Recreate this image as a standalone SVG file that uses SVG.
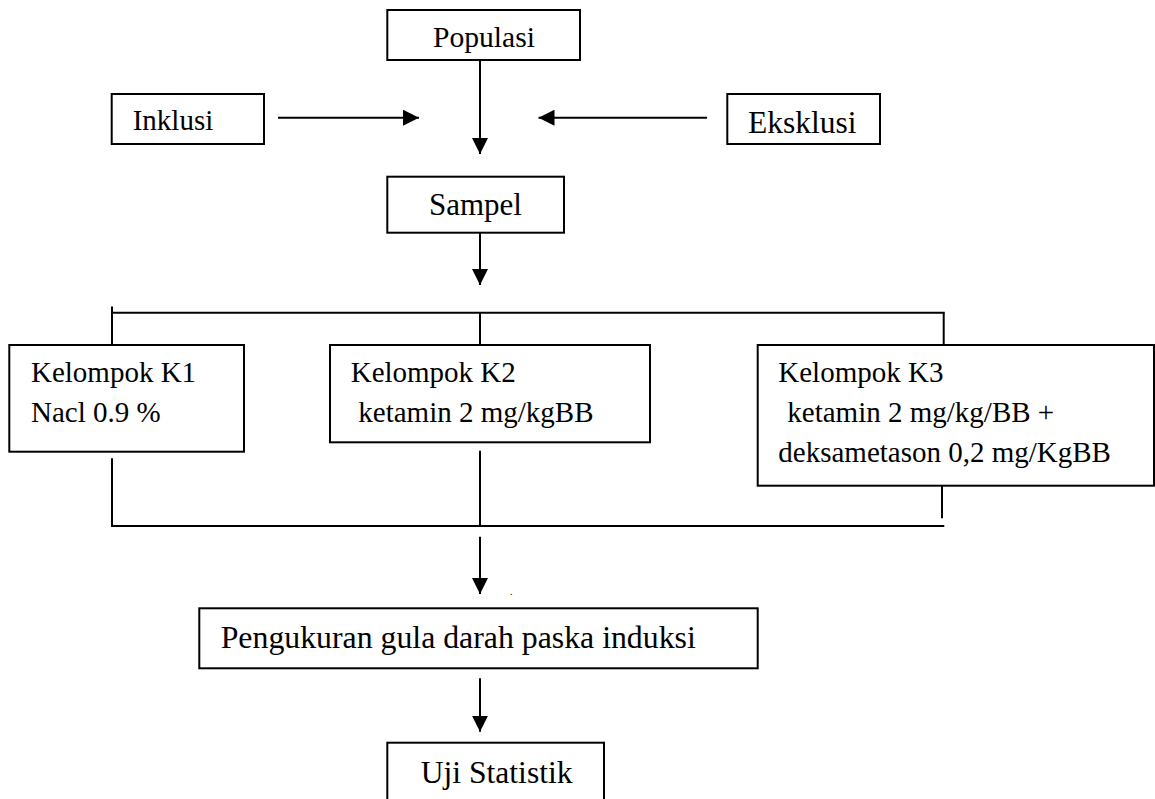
<svg xmlns="http://www.w3.org/2000/svg" width="1155" height="799" viewBox="0 0 1155 799">
<style>
.box{fill:#fff;stroke:#000;stroke-width:2}
.ln{fill:none;stroke:#000;stroke-width:2}
.t{font-family:"Liberation Serif","Times New Roman",serif;fill:#000;font-size:29px}
</style>
<defs>
<marker id="ah" viewBox="0 0 16 16" refX="16" refY="8" markerWidth="16" markerHeight="16" markerUnits="userSpaceOnUse" orient="auto">
<path d="M0,0 L16,8 L0,16 z" fill="#000"/>
</marker>
</defs>
<rect width="1155" height="799" fill="#fff"/>
<g id="connectors">
<line class="ln" x1="480" y1="60" x2="480" y2="154" marker-end="url(#ah)"/>
<line class="ln" x1="278" y1="117.7" x2="419" y2="117.7" marker-end="url(#ah)"/>
<line class="ln" x1="707" y1="117.7" x2="538.5" y2="117.7" marker-end="url(#ah)"/>
<line class="ln" x1="480" y1="220" x2="480" y2="285" marker-end="url(#ah)"/>
<polyline class="ln" points="112,306.5 112,345"/>
<line class="ln" x1="111" y1="312.7" x2="944.7" y2="312.7"/>
<line class="ln" x1="480" y1="312.7" x2="480" y2="345"/>
<line class="ln" x1="943.7" y1="312.7" x2="943.7" y2="345"/>
<line class="ln" x1="112" y1="458.3" x2="112" y2="527"/>
<line class="ln" x1="480" y1="450.7" x2="480" y2="526"/>
<line class="ln" x1="942" y1="485.7" x2="942" y2="518.3"/>
<line class="ln" x1="111" y1="526" x2="944.3" y2="526"/>
<line class="ln" x1="480" y1="536.7" x2="480" y2="594" marker-end="url(#ah)"/>
<line class="ln" x1="480" y1="678.3" x2="480" y2="731.7" marker-end="url(#ah)"/>
</g>
<g id="populasi">
<rect class="box" x="387.3" y="10" width="192.7" height="50"/>
<text class="t" x="433" y="47" style="font-size:29.6px">Populasi</text>
</g>
<g id="inklusi">
<rect class="box" x="111.7" y="94" width="152.3" height="50"/>
<text class="t" x="132.7" y="130">Inklusi</text>
</g>
<g id="eksklusi">
<rect class="box" x="727.3" y="94" width="152.7" height="50"/>
<text class="t" x="748" y="133" style="font-size:31.5px">Eksklusi</text>
</g>
<g id="sampel">
<rect class="box" x="387.3" y="176.7" width="176.7" height="56"/>
<text class="t" x="429" y="215" style="font-size:31px">Sampel</text>
</g>
<g id="k1">
<rect class="box" x="9.3" y="345" width="234.7" height="106.7"/>
<text class="t" x="31" y="381.7">Kelompok K1</text>
<text class="t" x="31" y="421.7">Nacl 0.9 %</text>
</g>
<g id="k2">
<rect class="box" x="330" y="345" width="320" height="97.3"/>
<text class="t" x="350.7" y="381.7">Kelompok K2</text>
<text class="t" x="358.3" y="421.7">ketamin 2 mg/kgBB</text>
</g>
<g id="k3">
<rect class="box" x="757.7" y="345" width="396.3" height="140.7"/>
<text class="t" x="778.3" y="381.7">Kelompok K3</text>
<text class="t" x="787.3" y="421.7">ketamin 2 mg/kg/BB +</text>
<text class="t" x="778.3" y="461.7">deksametason 0,2 mg/KgBB</text>
</g>
<g id="dot">
<text class="t" x="510" y="595" style="font-size:10px">.</text>
</g>
<g id="pengukuran">
<rect class="box" x="199.3" y="608.3" width="558.4" height="60"/>
<text class="t" x="220.7" y="648.3" style="font-size:31.8px">Pengukuran gula darah paska induksi</text>
</g>
<g id="uji">
<rect class="box" x="387.3" y="742.7" width="216.7" height="70"/>
<text class="t" x="420.7" y="783.3" style="font-size:31.6px">Uji Statistik</text>
</g>
</svg>
